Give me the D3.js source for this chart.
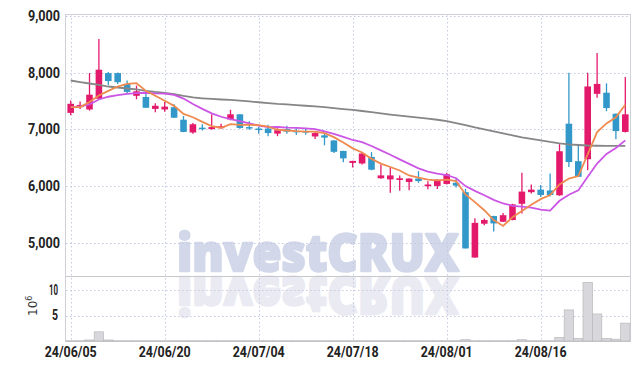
<!DOCTYPE html>
<html>
<head>
<meta charset="utf-8">
<script src="https://cdn.jsdelivr.net/npm/d3@7"></script>
<style>
  body { margin: 0; background: #fff; }
  svg { display: block; }
  .tick text { font-family: Roboto, "DejaVu Sans Condensed", sans-serif; fill: #222; }
</style>
</head>
<body>
<svg width="639" height="370"></svg>
<script>
const dates = [
  "24/06/05","24/06/07","24/06/10","24/06/11","24/06/12","24/06/13","24/06/14","24/06/17","24/06/18","24/06/19",
  "24/06/20","24/06/21","24/06/24","24/06/25","24/06/26","24/06/27","24/06/28","24/07/01","24/07/02","24/07/03",
  "24/07/04","24/07/05","24/07/08","24/07/09","24/07/10","24/07/11","24/07/12","24/07/15","24/07/16","24/07/17",
  "24/07/18","24/07/19","24/07/22","24/07/23","24/07/24","24/07/25","24/07/26","24/07/29","24/07/30","24/07/31",
  "24/08/01","24/08/02","24/08/05","24/08/06","24/08/07","24/08/08","24/08/09","24/08/12","24/08/13","24/08/14",
  "24/08/16","24/08/19","24/08/20","24/08/21","24/08/22","24/08/23","24/08/26","24/08/27","24/08/28","24/08/29"
];
const open = [
  7290,7390,7350,7540,7990,7990,7800,7590,7570,7360,
  7350,7390,7170,6945,7030,7005,7020,7175,7265,7040,
  7015,7015,6925,7005,6975,6970,6875,6895,6805,6620,
  6410,6400,6515,6140,6120,6110,6075,6135,6000,6005,
  6040,6060,5895,4745,5340,5475,5375,5405,5690,5895,
  5940,5925,5840,7100,6440,6475,7625,7645,7275,6955
];
const high = [
  7510,7490,7990,8590,8010,8000,7860,7770,7640,7460,
  7480,7440,7235,7110,7090,7265,7100,7345,7270,7145,
  7040,7080,7020,7065,7020,7010,6950,6925,6810,6625,
  6450,6590,6600,6380,6335,6190,6135,6265,6085,6120,
  6235,6150,5955,5435,5430,5480,5530,5690,6235,6030,
  6020,6225,6740,7995,6720,7995,8345,7810,7280,7920
];
const low = [
  7250,7360,7330,7530,7780,7800,7630,7530,7380,7300,
  7310,7200,6950,6925,6980,6995,7010,7160,7010,6995,
  6925,6880,6880,6925,6900,6905,6830,6720,6585,6420,
  6330,6380,6280,6130,5885,5920,5930,6060,5945,5950,
  6030,5975,4905,4740,5315,5205,5370,5400,5520,5870,
  5810,5820,5830,6340,6160,6280,7555,7320,6825,6945
];
const close = [
  7450,7430,7610,8050,7850,7830,7660,7670,7380,7415,
  7400,7205,6955,7090,7005,7040,7055,7265,7025,7020,
  7000,6935,6985,6960,6960,6960,6935,6855,6605,6490,
  6445,6575,6290,6190,6190,6140,6135,6090,6030,6115,
  6210,6010,4905,5355,5405,5345,5490,5680,5905,5940,
  5845,5845,6615,6425,6165,7755,7800,7375,6970,7265
];
const ma5 = [
  7392,7392,7480,7597,7678,7754,7800,7812,7678,7591,
  7505,7414,7271,7213,7131,7059,7029,7091,7078,7081,
  7073,7049,6993,6980,6968,6960,6960,6934,6863,6769,
  6666,6594,6481,6398,6338,6277,6189,6149,6117,6102,
  6116,6091,5854,5719,5577,5404,5300,5455,5565,5672,
  5772,5843,6030,6134,6179,6561,6952,7104,7213,7433
];
const ma10 = [
  7391,7404,7439,7526,7574,7602,7626,7637,7644,7635,
  7630,7607,7542,7446,7361,7282,7222,7181,7146,7106,
  7066,7039,7042,7029,7025,7017,7005,6964,6922,6869,
  6813,6777,6708,6631,6554,6472,6392,6315,6258,6220,
  6197,6140,6002,5918,5840,5760,5696,5655,5642,5625,
  5588,5572,5743,5850,5926,6167,6398,6567,6674,6806
];
const ma60 = [
  7860,7833,7807,7781,7754,7737,7719,7702,7679,7658,
  7644,7618,7588,7562,7547,7535,7526,7518,7504,7491,
  7477,7463,7449,7439,7426,7416,7404,7390,7374,7358,
  7344,7323,7302,7281,7260,7242,7225,7207,7190,7169,
  7144,7112,7074,7035,7000,6965,6930,6895,6860,6832,
  6807,6779,6755,6737,6725,6716,6712,6711,6711,6711
];
// volume in millions of shares
const volume = [
  0.05,0.05,0.2,1.8,0.2,0.05,0.05,0.05,0.05,0.05,
  0.05,0.05,0.05,0.05,0.05,0.05,0.05,0.05,0.05,0.05,
  0.05,0.05,0.05,0.05,0.05,0.05,0.05,0.05,0.05,0.05,
  0.05,0.05,0.05,0.05,0.05,0.05,0.05,0.05,0.05,0.05,
  0.05,0.05,0.25,0.05,0.05,0.05,0.05,0.05,0.25,0.05,
  0.05,0.05,0.7,6.1,0.5,11.5,5.3,0.5,0.35,3.5
];
const priceTicks = [5000, 6000, 7000, 8000, 9000];
const volumeTicks = [5, 10];
const dateTicks = ["24/06/05","24/06/20","24/07/04","24/07/18","24/08/01","24/08/16"];

const svg = d3.select("svg");
const left = 66, right = 630;
const priceTop = 14, priceBottom = 276, volBottom = 341;

const x = d3.scaleBand().domain(dates).range([left, right]);
const cx = d => x(d) + x.bandwidth() / 2;
const y = d3.scaleLinear().domain([4420, 9030]).range([priceBottom, priceTop]);
const yv = d3.scaleLinear().domain([0, 12.75]).range([volBottom, priceBottom]);

const upColor = "#e3196b";
const downColor = "#3298c9";

// watermark with reflection
const wm = svg.append("g")
    .style("font-family", "'Open Sans', 'Liberation Sans', sans-serif")
    .style("font-weight", "800").style("font-size", "52px")
    .attr("stroke-width", 2.4).attr("stroke-linejoin", "round");
wm.append("text")
    .attr("x", 177).attr("y", 271)
    .attr("textLength", 282).attr("lengthAdjust", "spacingAndGlyphs")
    .attr("fill", "#d2d8ea").attr("stroke", "#d2d8ea")
    .text("investCRUX");
wm.append("text")
    .attr("x", 177).attr("y", 271)
    .attr("transform", "translate(0,548) scale(1,-1)")
    .attr("textLength", 282).attr("lengthAdjust", "spacingAndGlyphs")
    .attr("fill", "#eaeaf2").attr("stroke", "#eaeaf2")
    .text("investCRUX");

// grid
const grid = svg.append("g")
    .attr("stroke", "#c5cae0")
    .attr("stroke-dasharray", "1.5,2.5");
grid.selectAll(".hp").data(priceTicks).join("line")
    .attr("x1", left).attr("x2", right)
    .attr("y1", d => Math.round(y(d)) + 0.5).attr("y2", d => Math.round(y(d)) + 0.5);
grid.selectAll(".hv").data(volumeTicks).join("line")
    .attr("x1", left).attr("x2", right)
    .attr("y1", d => Math.round(yv(d)) + 0.5).attr("y2", d => Math.round(yv(d)) + 0.5);
grid.selectAll(".vx").data(dateTicks).join("line")
    .attr("x1", d => Math.round(cx(d)) + 0.5).attr("x2", d => Math.round(cx(d)) + 0.5)
    .attr("y1", priceTop).attr("y2", volBottom);

// frame
const frame = svg.append("g").attr("stroke", "#d0d0d8").attr("fill", "none");
frame.append("line").attr("x1", left).attr("x2", right).attr("y1", priceTop + 0.5).attr("y2", priceTop + 0.5);
frame.append("line").attr("x1", left - 0.5).attr("x2", left - 0.5).attr("y1", priceTop).attr("y2", volBottom + 1);
frame.append("line").attr("x1", right + 0.5).attr("x2", right + 0.5).attr("y1", priceTop).attr("y2", volBottom + 1);
frame.append("line").attr("x1", left).attr("x2", right).attr("y1", priceBottom + 0.5).attr("y2", priceBottom + 0.5)
    .attr("stroke", "#c8c8cc");
frame.append("line").attr("x1", left).attr("x2", right).attr("y1", volBottom + 0.5).attr("y2", volBottom + 0.5)
    .attr("stroke", "#c8c8cc");

// volume bars
svg.append("g").selectAll("rect").data(dates).join("rect")
    .attr("x", d => x(d))
    .attr("width", x.bandwidth())
    .attr("y", (d, i) => yv(volume[i]))
    .attr("height", (d, i) => yv(0) - yv(volume[i]))
    .attr("fill", "#d8d8dc")
    .attr("stroke", "#b8b8bc")
    .attr("stroke-width", 0.7);

// candles
const bodyW = x.bandwidth() * 0.7;
const candles = svg.append("g").selectAll("g").data(dates).join("g")
    .attr("fill", (d, i) => close[i] >= open[i] ? upColor : downColor)
    .attr("stroke", (d, i) => close[i] >= open[i] ? upColor : downColor);
candles.append("line")
    .attr("x1", cx).attr("x2", cx)
    .attr("y1", (d, i) => y(high[i])).attr("y2", (d, i) => y(low[i]))
    .attr("stroke-width", 1.3);
candles.append("rect")
    .attr("x", d => cx(d) - bodyW / 2)
    .attr("width", bodyW)
    .attr("y", (d, i) => y(Math.max(open[i], close[i])))
    .attr("height", (d, i) => Math.max(1.5, Math.abs(y(open[i]) - y(close[i]))))
    .attr("stroke", "none");

// moving averages
const maLine = arr => d3.line().x(d => cx(d)).y((d, i) => y(arr[i]))(dates);
svg.append("path").attr("d", maLine(ma60)).attr("fill", "none").attr("stroke", "#868686").attr("stroke-width", 1.8);
svg.append("path").attr("d", maLine(ma10)).attr("fill", "none").attr("stroke", "#cc55e6").attr("stroke-width", 1.8);
svg.append("path").attr("d", maLine(ma5)).attr("fill", "none").attr("stroke", "#ef8a4f").attr("stroke-width", 1.8);

// axes
const yAxis = svg.append("g")
    .attr("transform", `translate(${left},0)`)
    .call(d3.axisLeft(y).tickValues(priceTicks).tickFormat(d3.format(",")).tickSize(0).tickPadding(6));
yAxis.select(".domain").remove();
yAxis.selectAll("text").style("font-size", "14px").style("font-weight", "bold")
    .attr("textLength", 32).attr("lengthAdjust", "spacingAndGlyphs");

const vAxis = svg.append("g")
    .attr("transform", `translate(${left},0)`)
    .call(d3.axisLeft(yv).tickValues(volumeTicks).tickSize(0).tickPadding(8));
vAxis.select(".domain").remove();
vAxis.selectAll("text").style("font-size", "14px").style("font-weight", "bold")
    .attr("textLength", d => d >= 10 ? 9 : 6).attr("lengthAdjust", "spacingAndGlyphs");

const xAxis = svg.append("g")
    .attr("transform", `translate(0,${volBottom})`)
    .call(d3.axisBottom(x).tickValues(dateTicks).tickSize(0).tickPadding(5));
xAxis.select(".domain").remove();
xAxis.selectAll("text").style("font-size", "15px").style("font-weight", "bold")
    .attr("textLength", 52).attr("lengthAdjust", "spacingAndGlyphs");

// volume unit label
const unit = svg.append("text")
    .attr("transform", "translate(37,316) rotate(-90)")
    .style("font-family", "DejaVu Sans, sans-serif")
    .style("font-size", "12px")
    .attr("fill", "#333");
unit.append("tspan").text("10");
unit.append("tspan").attr("dy", -5).style("font-size", "8px").text("6");
</script>
</body>
</html>
